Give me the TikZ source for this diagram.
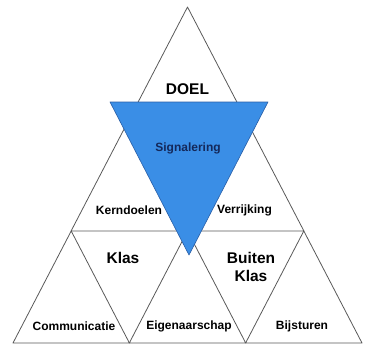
\documentclass[tikz,border=0pt]{standalone}
\usepackage{fontspec}
\setmainfont{Liberation Sans}
\usetikzlibrary{calc}
\definecolor{signal blue}{rgb}{0.2275, 0.5569, 0.9020}
\definecolor{signal edge}{rgb}{0.1608, 0.3686, 0.6510}
\definecolor{signal navy}{rgb}{0.0784, 0.1569, 0.3529}
\definecolor{grid gray}{rgb}{0.35, 0.35, 0.35}

\begin{document}
\begin{tikzpicture}[x=1pt, y=-1pt,
		cell/.style = {draw = grid gray, line width = 0.8pt, line join = round},
		smalltext/.style = {font = \bfseries\fontsize{12}{14}\selectfont},
		bigtext/.style = {font = \bfseries\fontsize{15.5}{18}\selectfont, align = center}]
			\useasboundingbox (0, 0) rectangle (367, 345);
			% Part for the nine small triangles
			\begin{scope}
				\foreach \ax/\ay in {187.5/7, 129.3/119, 245.7/119, 71.2/231, 187.5/231, 303.8/231}
					\draw[cell] (\ax, \ay) -- ++(-58.2, 112) -- ++(116.4, 0) -- cycle;
			\end{scope}
			% Part for the blue triangle
			\begin{scope}
				\coordinate (sigleft) at (110, 102);
				\coordinate (sigright) at (268, 102);
				\coordinate (sigtip) at (189, 255);
				\filldraw[fill = signal blue, draw = signal edge, line width = 0.6pt, line join = round]
					(sigleft) -- (sigright) -- (sigtip) -- cycle;
			\end{scope}
			% labels
			\node[bigtext] (doel) at (187.5, 89) {DOEL};
			\node[smalltext, text = signal navy] (signalering) at (188, 148) {Signalering};
			\node[smalltext] (kerndoelen) at (129, 210) {Kerndoelen};
			\node[smalltext] (verrijking) at (244.5, 210) {Verrijking};
			\node[bigtext] (klas) at (123, 258) {Klas};
			\node[bigtext] (buitenklas) at (251, 267) {Buiten\\Klas};
			\node[smalltext] (communicatie) at (74, 326) {Communicatie};
			\node[smalltext] (eigenaarschap) at (189, 326) {Eigenaarschap};
			\node[smalltext] (bijsturen) at (302, 326) {Bijsturen};
		\end{tikzpicture}
\end{document}
